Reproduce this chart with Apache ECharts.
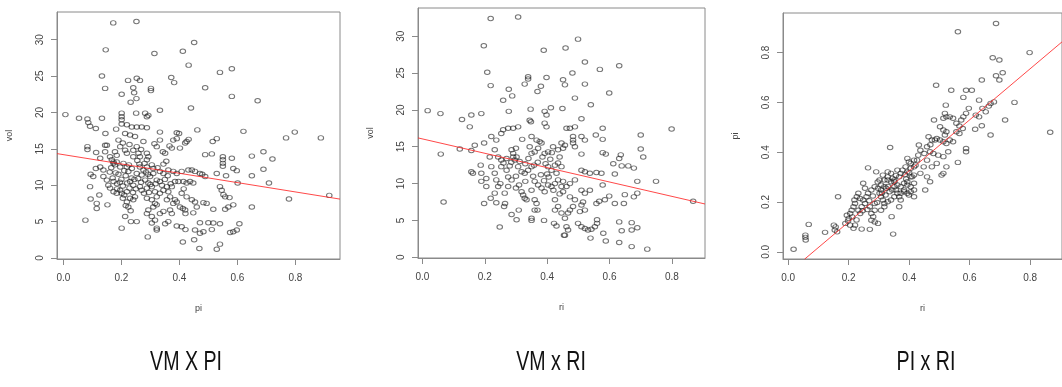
<!DOCTYPE html>
<html>
<head>
<meta charset="utf-8">
<script src="https://cdn.jsdelivr.net/npm/echarts@6/dist/echarts.min.js"></script>
<style>
  html, body { margin: 0; padding: 0; background: #fff; }
  #chart { width: 1062px; height: 387px; }
</style>
</head>
<body>
<div id="chart"></div>
<script>
// ---- data ----
// panel 1: x = pi, y = vol
const volPi = [
  [0.172,32.3],[0.252,32.5],[0.146,28.6],[0.314,28.1],[0.412,28.4],[0.451,29.6],[0.432,26.5],[0.133,25.0],[0.144,23.3],[0.223,24.4],
  [0.253,24.7],[0.264,24.4],[0.241,23.4],[0.244,22.7],[0.302,23.3],[0.302,23.0],[0.201,22.5],[0.232,21.4],[0.252,21.9],[0.372,24.8],
  [0.382,24.1],[0.333,20.3],[0.44,20.6],[0.540,25.5],[0.581,26.0],[0.489,23.4],[0.581,22.2],[0.670,21.6],[0.462,17.6],[0.621,17.4],
  [0.768,16.5],[0.798,17.3],[0.888,16.5],[0.515,16.0],[0.529,16.4],[0.489,14.2],[0.512,14.3],[0.55,13.9],[0.55,13.5],[0.55,13.0],
  [0.55,12.6],[0.581,13.7],[0.650,14.0],[0.69,14.6],[0.721,13.6],[0.586,12.3],[0.598,12.0],[0.65,11.3],[0.69,12.2],[0.709,10.3],
  [0.601,10.3],[0.561,11.3],[0.529,11.6],[0.479,11.5],[0.471,11.6],[0.489,11.2],[0.778,8.1],[0.917,8.6],[0.65,7.0],[0.54,9.8],
  [0.546,9.3],[0.552,8.7],[0.558,8.4],[0.573,8.3],[0.558,6.7],[0.569,7.0],[0.586,7.3],[0.517,6.7],[0.483,7.6],[0.494,7.5],
  [0.46,7.0],[0.448,6.2],[0.471,4.85],[0.5,4.85],[0.517,4.8],[0.54,4.7],[0.512,3.9],[0.483,3.6],[0.454,3.85],[0.471,3.4],
  [0.575,3.5],[0.586,3.6],[0.598,3.85],[0.607,4.7],[0.451,2.5],[0.54,1.9],[0.529,1.2],[0.469,1.3],
  [0.007,19.7],[0.054,19.2],[0.083,19.1],[0.086,18.6],[0.092,18.1],[0.112,17.8],[0.133,19.2],[0.145,17.1],[0.083,15.3],[0.083,14.9],
  [0.113,14.5],[0.144,15.5],[0.15,15.5],[0.144,14.6],[0.112,12.3],[0.127,12.5],[0.138,12.1],[0.094,11.5],[0.103,11.2],[0.092,9.8],
  [0.094,8.1],[0.115,7.5],[0.115,6.8],[0.124,8.65],[0.152,7.3],[0.076,5.2],[0.173,13.0],[0.184,13.2],[0.201,4.1],[0.213,5.7],
  [0.233,5.0],[0.253,5.0],[0.291,2.9],[0.305,4.8],[0.316,5.2],[0.322,4.1],[0.322,3.85],[0.351,4.7],[0.362,5.0],[0.391,4.4],
  [0.408,4.3],[0.421,3.9],[0.412,2.2],[0.402,7.0],[0.412,6.8],[0.42,6.6],[0.421,6.1],[0.391,7.7],[0.379,7.5],[0.345,6.4],
  [0.368,6.6],[0.31,7.0],[0.322,7.3],[0.293,6.6],
  [0.201,19.9],[0.201,19.4],[0.201,19.0],[0.251,19.9],[0.282,19.9],[0.288,19.4],[0.293,19.6],[0.182,17.7],[0.201,18.4],[0.219,18.3],
  [0.236,18.0],[0.253,18.0],[0.27,18.0],[0.288,17.9],[0.213,17.1],[0.23,16.9],[0.247,16.7],[0.333,17.3],[0.333,16.2],[0.314,15.7],
  [0.322,15.3],[0.391,17.2],[0.399,17.1],[0.391,16.4],[0.379,16.2],[0.366,15.4],[0.374,15.1],[0.42,15.8],[0.425,16.0],[0.432,16.3],
  [0.402,15.1],[0.343,14.6],[0.351,14.4],[0.19,16.2],[0.196,15.3],[0.205,15.8],[0.213,14.8],[0.219,14.4],[0.241,14.8],[0.253,15.3],
  [0.241,13.9],[0.259,14.4],[0.264,13.9],[0.276,16.0],[0.288,14.4],[0.293,13.9],[0.288,13.5],
  [0.173,13.2],[0.178,12.8],[0.196,12.5],[0.207,13.0],[0.219,12.5],[0.224,11.9],[0.236,12.3],[0.253,11.6],[0.264,12.5],[0.276,12.1],
  [0.288,12.5],[0.305,12.8],[0.31,12.3],[0.333,11.9],[0.345,11.6],[0.362,12.1],[0.379,11.9],[0.391,11.6],[0.408,11.9],[0.431,12.1],
  [0.443,12.1],[0.454,11.9],
  [0.138,11.2],[0.15,10.7],[0.155,10.0],[0.161,9.6],[0.173,10.5],[0.173,9.1],[0.184,8.9],[0.196,9.3],[0.201,8.9],[0.21,8.65],
  [0.219,9.1],[0.23,10.5],[0.241,10.0],[0.247,8.4],[0.241,8.0],[0.219,7.7],[0.224,7.0],[0.232,6.5],[0.264,9.8],[0.27,9.3],
  [0.288,9.6],[0.293,10.3],[0.305,9.8],[0.316,9.1],[0.322,8.4],[0.333,8.9],[0.345,9.3],[0.357,9.8],[0.362,9.1],[0.368,8.4],
  [0.374,9.8],[0.385,10.5],[0.397,10.5],[0.414,10.5],[0.425,10.3],[0.437,10.5],[0.448,10.3],[0.408,8.9],[0.425,8.4],[0.443,8.0],
  [0.454,7.7],[0.288,8.2],[0.305,8.0],[0.316,7.5],[0.282,10.7],[0.299,11.2],[0.322,10.7],[0.333,10.5],[0.184,14.1],[0.178,14.6],
  [0.161,13.9],[0.167,13.5],[0.127,13.7],[0.288,6.1],[0.305,5.7],[0.333,6.1],[0.357,8.0],[0.374,6.1],
  [0.16,11.8],[0.17,11.0],[0.185,10.2],[0.19,11.5],[0.2,10.8],[0.205,9.9],[0.215,11.3],[0.22,10.3],[0.228,9.6],[0.235,11.0],
  [0.245,10.8],[0.25,9.5],[0.258,10.9],[0.262,12.9],[0.27,11.4],[0.278,8.9],[0.285,11.8],[0.295,9.0],[0.3,10.1],[0.31,11.6],
  [0.318,10.2],[0.325,12.4],[0.34,10.0],[0.35,10.8],[0.36,11.3],[0.37,10.2],
  [0.165,12.4],[0.18,11.7],[0.195,10.4],[0.21,12.0],[0.226,12.8],[0.23,8.2],[0.24,9.0],[0.255,13.4],[0.268,10.4],[0.28,13.0],
  [0.292,11.5],[0.205,8.2],[0.215,7.2],[0.185,9.5],[0.345,12.9],[0.355,13.3],[0.268,14.9],[0.228,15.6],[0.415,9.5],[0.385,8.0]
];

// panel 2: x = ri, y = vol
const volRi = [
  [0.219,32.4],[0.307,32.6],[0.197,28.7],[0.389,28.1],[0.208,25.1],[0.219,23.3],[0.339,24.5],[0.339,24.2],[0.328,23.5],[0.398,24.4],
  [0.277,22.8],[0.288,21.9],[0.259,21.3],[0.369,22.5],[0.38,23.2],[0.017,19.9],[0.058,19.5],[0.127,18.7],[0.157,19.3],[0.152,17.7],
  [0.189,19.5],[0.277,19.8],[0.347,20.1],[0.392,19.8],[0.398,19.3],[0.412,20.3],[0.059,14.0],[0.068,7.5],[0.12,14.7],[0.157,14.5],
  [0.168,15.2],[0.198,15.5],[0.221,16.4],[0.237,15.9],[0.157,11.6],[0.162,11.4],[0.187,12.5],[0.189,11.4],[0.189,10.3],[0.198,7.3],
  [0.219,8.0],[0.237,7.4],[0.248,4.1],[0.286,5.8],[0.302,5.1],[0.309,6.4],[0.35,5.3],[0.35,5.0],[0.36,6.4],[0.369,6.4],
  [0.39,5.0],[0.422,4.6],[0.43,4.25],[0.454,3.0],
  [0.216,13.6],[0.221,12.3],[0.232,11.4],[0.237,10.5],[0.243,9.6],[0.232,8.7],[0.253,16.8],[0.259,17.3],[0.275,17.5],[0.291,17.5],
  [0.307,17.7],[0.286,14.6],[0.291,14.1],[0.291,13.6],[0.296,13.2],[0.302,13.6],[0.27,11.8],[0.275,10.9],[0.286,10.5],[0.275,9.6],
  [0.264,8.7],[0.307,12.3],[0.318,11.6],[0.328,11.4],[0.339,11.8],[0.35,12.3],[0.318,8.9],[0.323,8.45],[0.328,8.0],[0.334,7.8],
  [0.344,15.0],[0.35,14.1],[0.36,14.3],[0.371,14.8],[0.382,15.5],[0.344,18.6],[0.348,18.4],[0.35,16.4],[0.366,15.9],[0.376,15.7],
  [0.36,10.3],[0.371,9.8],[0.382,9.4],[0.392,8.9],[0.403,9.8],[0.414,9.6],[0.425,10.0],[0.435,10.5],[0.446,9.6],[0.403,12.3],
  [0.414,11.8],[0.425,12.5],[0.435,12.8],[0.446,12.3],[0.392,14.1],[0.403,14.3],[0.419,15.0],[0.435,14.6],[0.446,15.5],[0.392,18.2],
  [0.398,17.7],[0.425,7.8],[0.435,6.9],[0.446,6.0],[0.425,6.4],[0.36,7.8],[0.366,7.3],[0.232,14.6],[0.243,13.6],[0.253,13.2],
  [0.253,12.3],[0.205,10.7],[0.205,9.6],[0.262,6.9],[0.265,7.3],
  [0.499,29.6],[0.459,28.4],[0.521,26.5],[0.569,25.5],[0.631,26.0],[0.481,25.0],[0.451,24.1],[0.457,23.4],[0.521,23.5],[0.599,22.3],
  [0.489,21.6],[0.54,20.7],[0.449,20.2],[0.51,18.8],[0.489,17.7],[0.473,17.5],[0.462,17.5],[0.578,17.5],[0.556,16.6],[0.578,16.0],
  [0.70,16.6],[0.799,17.4],[0.483,16.4],[0.483,15.9],[0.483,15.5],[0.489,15.0],[0.51,16.4],[0.521,15.9],[0.451,14.8],[0.457,15.2],
  [0.51,14.0],[0.578,14.2],[0.588,14.0],[0.636,13.9],[0.631,13.4],[0.70,14.7],[0.708,13.6],[0.612,12.7],[0.639,12.4],[0.66,12.4],
  [0.678,12.1],[0.51,11.8],[0.521,11.6],[0.537,11.4],[0.558,11.5],[0.574,11.4],[0.617,11.3],[0.689,10.3],[0.749,10.3],[0.578,9.8],
  [0.868,7.6],[0.489,10.5],[0.473,10.0],[0.462,9.6],[0.451,10.3],[0.51,9.1],[0.537,9.1],[0.521,8.7],[0.451,8.9],[0.473,8.2],
  [0.489,7.8],[0.599,8.3],[0.585,7.8],[0.567,7.6],[0.558,7.3],[0.617,7.3],[0.649,8.5],[0.646,7.3],[0.678,8.2],[0.689,8.7],
  [0.515,7.5],[0.51,7.1],[0.521,6.4],[0.505,6.2],[0.483,6.9],[0.473,6.4],[0.467,6.0],[0.457,5.3],[0.462,4.15],[0.467,3.7],
  [0.457,3.0],[0.499,4.6],[0.51,4.15],[0.521,3.9],[0.531,3.7],[0.542,3.8],[0.553,4.15],[0.56,5.1],[0.56,4.6],[0.539,2.6],
  [0.58,3.25],[0.588,2.2],[0.631,4.8],[0.639,3.6],[0.671,4.7],[0.671,3.7],[0.689,4.0],[0.631,2.0],[0.671,1.45],[0.721,1.1],
  [0.26,12.8],[0.28,12.4],[0.3,11.0],[0.31,9.8],[0.33,10.3],[0.34,13.4],[0.355,11.0],[0.37,12.9],[0.38,11.2],[0.39,10.4],
  [0.4,11.3],[0.41,13.3],[0.42,9.1],[0.43,11.4],[0.44,8.6],[0.35,9.1],[0.3,14.8],[0.32,16.0],[0.25,10.0],[0.27,13.4],
  [0.285,12.9],[0.312,13.0],[0.33,12.7],[0.358,12.5],[0.395,12.7],[0.405,10.9],[0.385,13.6],[0.415,14.2],[0.44,13.6],[0.3,9.4]
];

// panel 3: x = ri, y = pi
const piRi = [
  [0.018,0.01],[0.057,0.067],[0.057,0.058],[0.058,0.047],[0.068,0.11],[0.122,0.078],[0.151,0.107],[0.157,0.1],[0.154,0.087],[0.162,0.08],
  [0.165,0.221],[0.264,0.337],[0.337,0.419],[0.342,0.141],[0.347,0.071],[0.216,0.094],[0.243,0.091],[0.27,0.09],
  [0.194,0.147],[0.2,0.134],[0.205,0.154],[0.21,0.167],[0.216,0.181],[0.221,0.194],[0.219,0.208],[0.232,0.167],[0.238,0.154],[0.243,0.181],
  [0.248,0.208],[0.254,0.194],[0.259,0.221],[0.264,0.235],[0.27,0.181],[0.275,0.154],[0.281,0.141],[0.286,0.167],[0.286,0.194],[0.275,0.248],
  [0.286,0.261],[0.297,0.255],[0.302,0.235],[0.307,0.221],[0.313,0.208],[0.318,0.194],[0.318,0.288],[0.329,0.301],[0.34,0.281],[0.345,0.295],
  [0.351,0.261],[0.356,0.248],[0.361,0.235],[0.367,0.221],[0.372,0.208],[0.367,0.181],[0.372,0.315],[0.378,0.328],[0.388,0.341],[0.394,0.321],
  [0.405,0.335],[0.41,0.301],[0.416,0.275],[0.416,0.248],[0.399,0.361],[0.416,0.368],[0.421,0.348],
  [0.189,0.114],[0.205,0.107],[0.221,0.107],[0.275,0.127],[0.286,0.12],[0.297,0.114],[0.307,0.167],[0.318,0.181],[0.329,0.201],[0.34,0.208],
  [0.351,0.221],[0.307,0.268],[0.324,0.255],[0.335,0.241],[0.351,0.281],[0.361,0.268],[0.383,0.275],[0.394,0.268],[0.405,0.261],[0.383,0.241],
  [0.399,0.228],[0.416,0.308],[0.248,0.275],[0.254,0.255],[0.232,0.235],[0.238,0.214],[0.227,0.221],[0.291,0.321],[0.302,0.288],[0.313,0.308],
  [0.329,0.321],
  [0.687,0.917],[0.561,0.884],[0.798,0.8],[0.676,0.779],[0.698,0.77],[0.687,0.707],[0.709,0.719],[0.698,0.69],[0.64,0.69],[0.489,0.669],
  [0.539,0.649],[0.588,0.649],[0.607,0.649],[0.579,0.62],[0.521,0.589],[0.631,0.609],[0.68,0.602],[0.669,0.596],[0.663,0.585],[0.642,0.576],
  [0.653,0.562],[0.62,0.549],[0.631,0.542],[0.748,0.6],[0.717,0.529],[0.866,0.48],[0.669,0.469],[0.64,0.506],[0.618,0.492],[0.597,0.576],
  [0.588,0.556],[0.579,0.542],[0.572,0.529],[0.518,0.556],[0.523,0.542],[0.513,0.536],[0.534,0.542],[0.545,0.536],[0.482,0.529],[0.556,0.516],
  [0.566,0.505],[0.577,0.495],[0.556,0.482],[0.566,0.475],[0.502,0.502],[0.513,0.489],[0.523,0.482],[0.518,0.469],[0.464,0.462],[0.475,0.449],
  [0.485,0.449],[0.491,0.455],[0.502,0.449],[0.513,0.442],[0.523,0.435],[0.534,0.449],[0.545,0.442],[0.432,0.429],[0.437,0.408],[0.459,0.422],
  [0.469,0.402],[0.48,0.395],[0.496,0.388],[0.513,0.382],[0.529,0.402],[0.588,0.415],[0.588,0.402],[0.561,0.359],[0.523,0.341],[0.513,0.315],
  [0.491,0.355],[0.475,0.341],[0.459,0.368],[0.448,0.341],[0.426,0.368],[0.416,0.341],[0.405,0.355],[0.394,0.375],[0.437,0.315],[0.459,0.301],
  [0.469,0.281],[0.405,0.301],[0.394,0.281],[0.361,0.328],[0.367,0.301],[0.34,0.315],[0.351,0.288],[0.329,0.288],[0.318,0.261],[0.307,0.248],
  [0.372,0.261],[0.383,0.248],[0.394,0.235],[0.405,0.241],[0.416,0.221],[0.372,0.235],[0.453,0.248],[0.507,0.308],
  [0.198,0.124],[0.212,0.14],[0.226,0.128],[0.246,0.165],[0.262,0.17],[0.268,0.205],[0.28,0.224],[0.294,0.198],[0.296,0.28],[0.31,0.236],
  [0.322,0.228],[0.33,0.262],[0.344,0.248],[0.356,0.306],[0.386,0.31],[0.39,0.292],[0.4,0.318],[0.43,0.388],[0.45,0.395],[0.47,0.43]
];

// fitted lines, end points where they meet the plot box
const fitVolPi = [[-0.022, 14.34], [0.954, 8.09]];
const fitVolRi = [[-0.014, 16.2], [0.906, 7.23]];
const fitPiRi = [[0.054, -0.03], [0.905, 0.843]];

// tick labels
const ticksFrac = [0, 0.2, 0.4, 0.6, 0.8];
const ticksVol = [0, 5, 10, 15, 20, 25, 30];

const panelTitles = ['VM X PI', 'VM x RI', 'PI x RI'];

document.addEventListener('DOMContentLoaded', function () {
    const chart = echarts.init(document.getElementById('chart'));

    const axisGray = '#8a8a8a';
    const labelGray = '#444';

    function makeAxis(kind, gridIndex, min, max, ticks, name, digits) {
        const isY = kind === 'y';
        return {
            type: 'value',
            gridIndex: gridIndex,
            min: min,
            max: max,
            name: name,
            nameLocation: 'middle',
            nameGap: isY ? 43 : 45,
            nameRotate: isY ? 90 : 0,
            nameTextStyle: { color: labelGray, fontSize: 9, fontFamily: 'Liberation Sans' },
            axisLine: { show: true, onZero: false, lineStyle: { color: axisGray, width: 1 } },
            axisTick: {
                show: true,
                length: 6,
                customValues: ticks,
                lineStyle: { color: axisGray }
            },
            axisLabel: {
                show: true,
                customValues: ticks,
                rotate: isY ? 90 : 0,
                margin: isY ? 12 : 14,
                color: labelGray,
                fontSize: 10,
                fontFamily: 'Liberation Sans',
                formatter: function (v) { return v.toFixed(digits); }
            },
            splitLine: { show: false }
        };
    }

    const pointStyle = {
        color: 'rgba(0,0,0,0)',
        borderColor: 'rgba(25,25,25,0.75)',
        borderWidth: 1
    };

    function scatter(idx, data) {
        return {
            type: 'scatter',
            xAxisIndex: idx,
            yAxisIndex: idx,
            symbol: 'circle',
            symbolSize: [5.5, 4.5],
            itemStyle: pointStyle,
            data: data,
            silent: true
        };
    }

    function fitLine(idx, data) {
        return {
            type: 'line',
            xAxisIndex: idx,
            yAxisIndex: idx,
            symbol: 'none',
            clip: true,
            lineStyle: { color: 'rgba(255,40,40,0.85)', width: 1 },
            data: data,
            silent: true,
            z: 3
        };
    }

    const titleX = [186, 551, 926];

    const option = {
        animation: false,
        backgroundColor: '#fff',
        grid: [
            { left: 57, top: 12, width: 283, height: 247, show: true, borderColor: axisGray, borderWidth: 1 },
            { left: 418, top: 8, width: 287, height: 250, show: true, borderColor: axisGray, borderWidth: 1 },
            { left: 783, top: 13, width: 285, height: 246, show: true, borderColor: axisGray, borderWidth: 1 }
        ],
        xAxis: [
            makeAxis('x', 0, -0.022, 0.954, ticksFrac, 'pi', 1),
            makeAxis('x', 1, -0.014, 0.906, ticksFrac, 'ri', 1),
            makeAxis('x', 2, -0.017, 0.905, ticksFrac, 'ri', 1)
        ],
        yAxis: [
            makeAxis('y', 0, -0.14, 33.8, ticksVol, 'vol', 0),
            makeAxis('y', 1, -0.1, 33.83, ticksVol, 'vol', 0),
            makeAxis('y', 2, -0.029, 0.959, ticksFrac, 'pi', 1)
        ],
        series: [
            scatter(0, volPi), fitLine(0, fitVolPi),
            scatter(1, volRi), fitLine(1, fitVolRi),
            scatter(2, piRi), fitLine(2, fitPiRi)
        ],
        // panel captions under the plots, squeezed to match the narrow face of the original
        graphic: panelTitles.map(function (t, i) {
            return {
                type: 'text',
                x: titleX[i],
                y: 362,
                scaleX: 0.7,
                style: {
                    text: t,
                    fill: '#111',
                    fontSize: 28,
                    fontFamily: 'Liberation Sans',
                    textAlign: 'center',
                    textVerticalAlign: 'middle'
                }
            };
        })
    };

    chart.setOption(option);
});
</script>
</body>
</html>
